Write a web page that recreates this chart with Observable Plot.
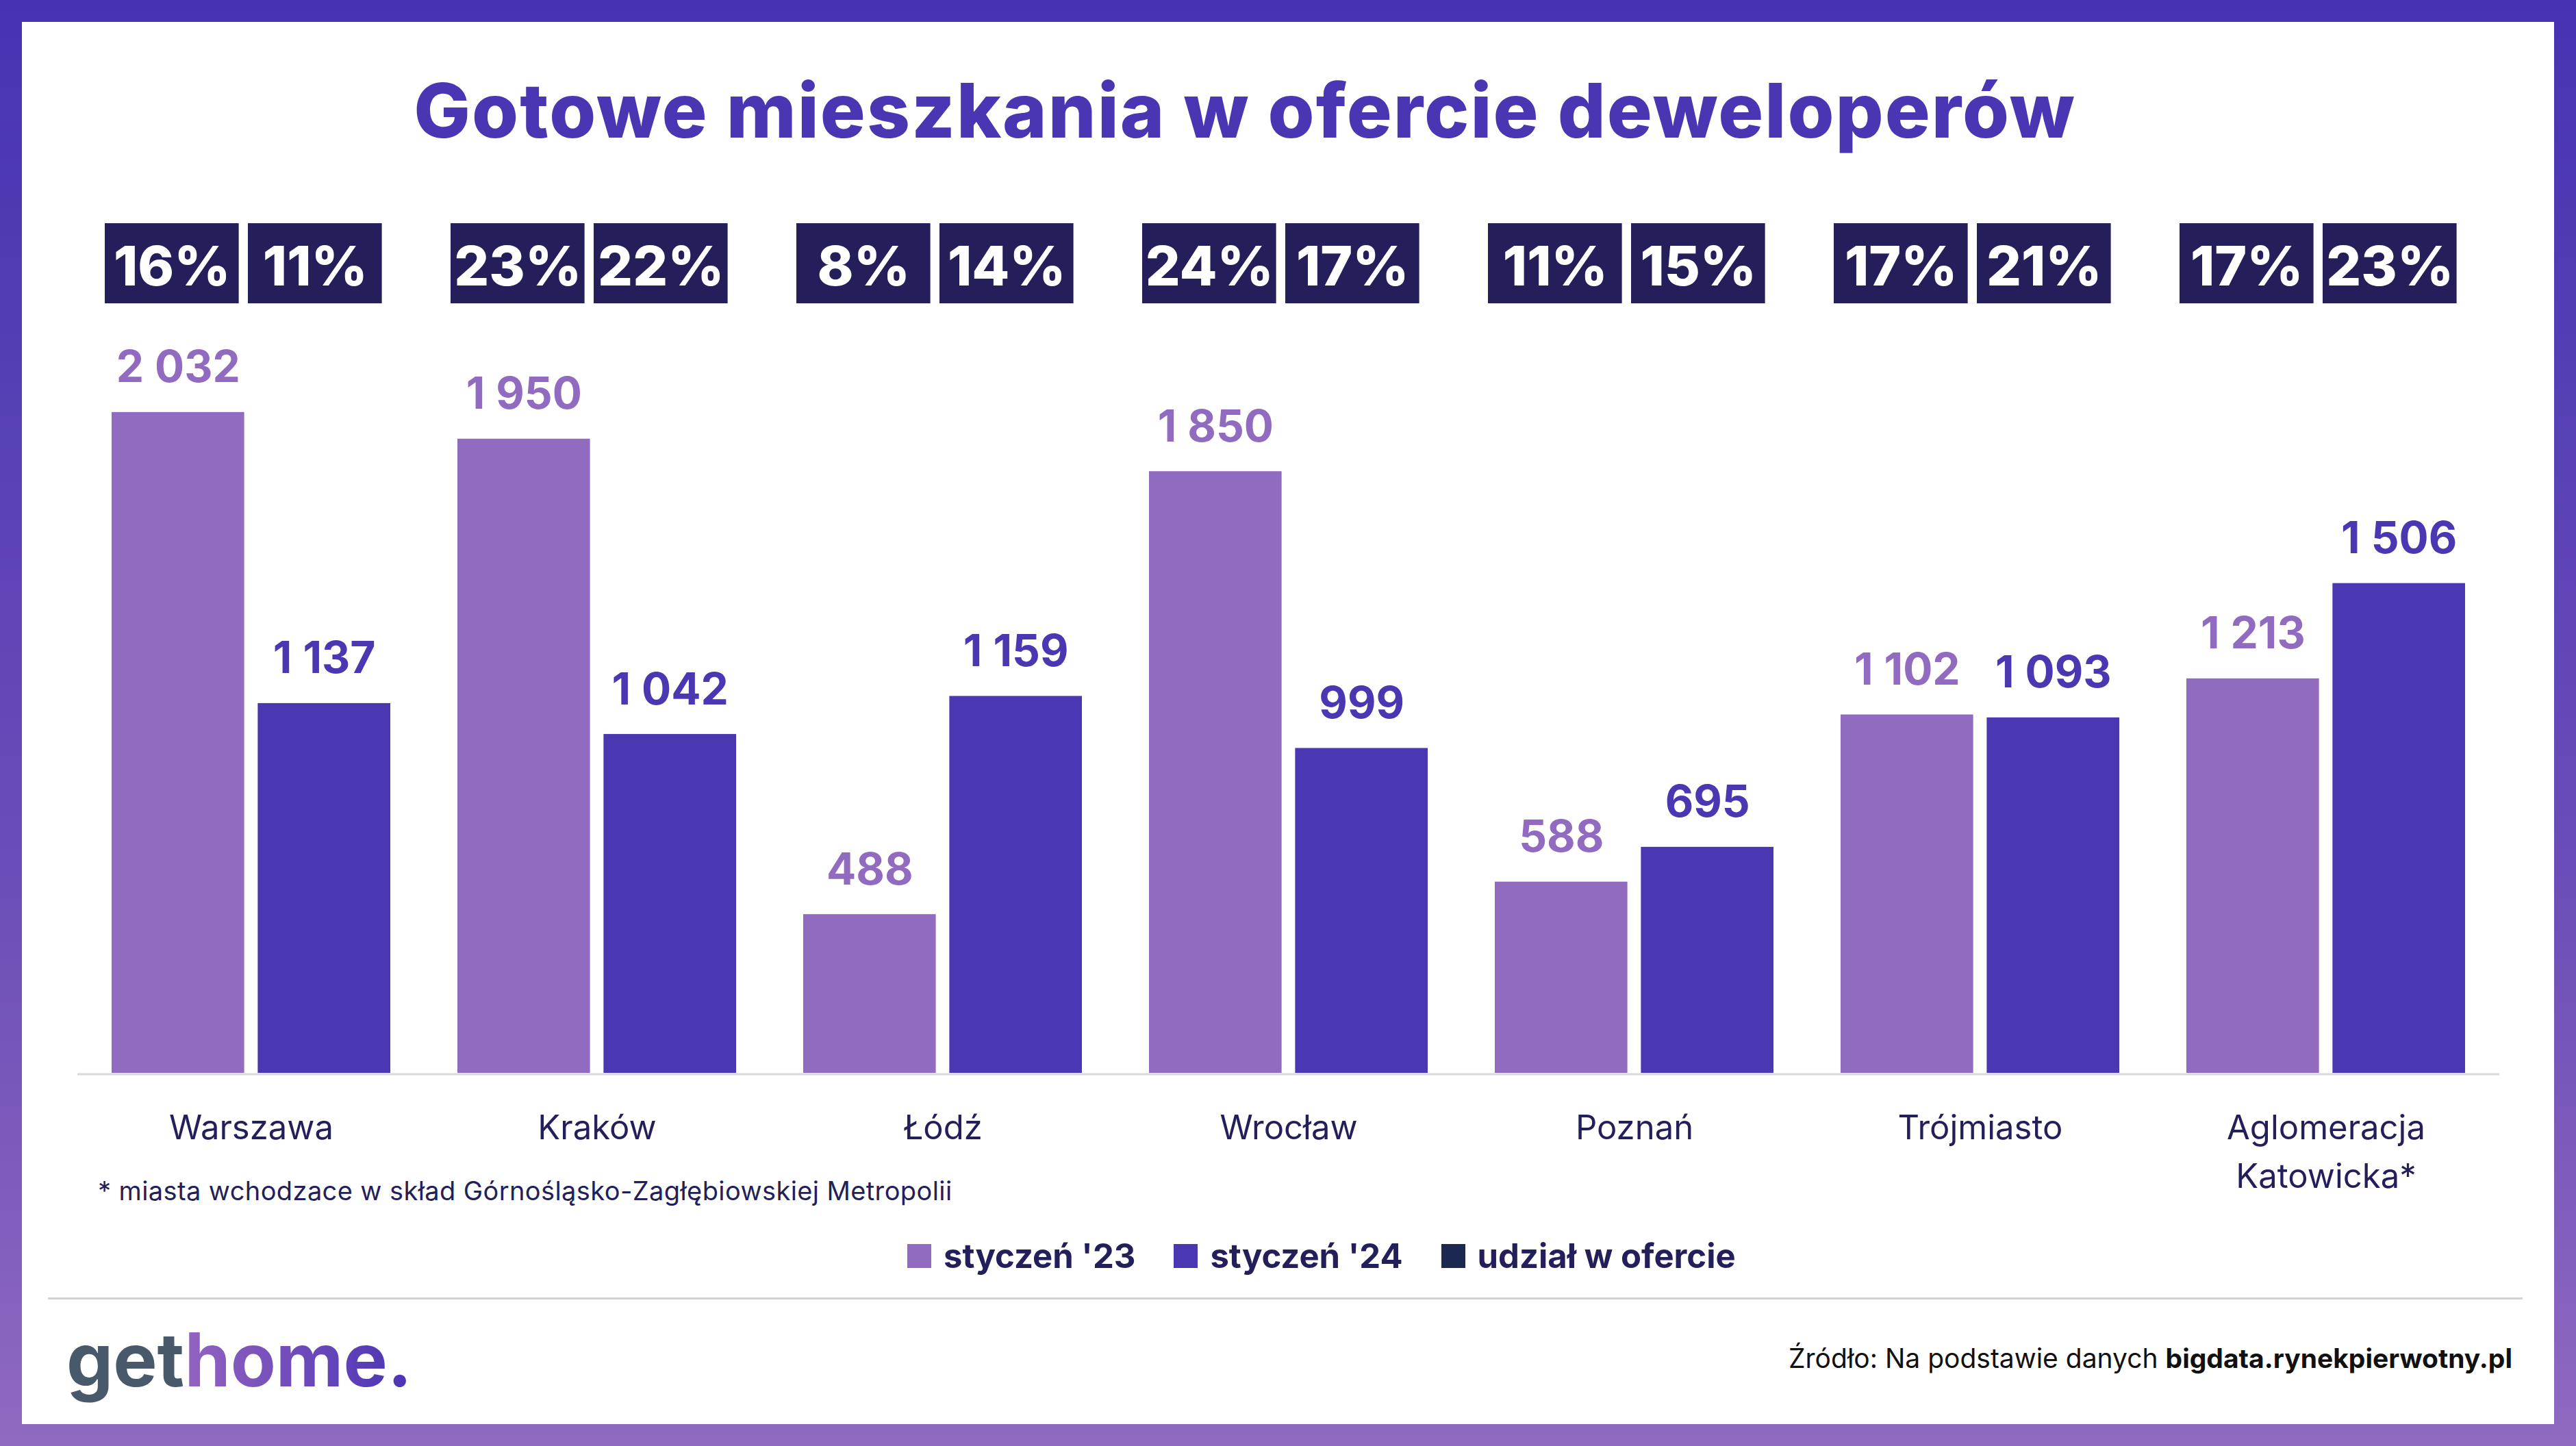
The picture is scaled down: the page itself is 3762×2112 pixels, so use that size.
<!DOCTYPE html>
<html><head><meta charset="utf-8">
<script src="https://cdn.jsdelivr.net/npm/d3@7"></script>
<script src="https://cdn.jsdelivr.net/npm/@observablehq/plot@0.6"></script>
<style>
html,body{margin:0;padding:0;}
body{width:3762px;height:2112px;overflow:hidden;font-family:Inter,"Noto Sans",sans-serif;}
#frame{position:relative;width:3762px;height:2112px;background:linear-gradient(180deg,#4733b2 0%,#6a4db8 60%,#9069c0 100%);}
#inner{position:absolute;left:32px;top:32px;width:3698px;height:2048px;background:#fff;}
.abs{position:absolute;white-space:nowrap;}
#title{left:0;width:3636px;top:106px;text-align:center;font-size:110px;line-height:1;font-weight:800;color:#4a36b2;letter-spacing:2px;}
#boxes{left:0;top:326px;}
#chart{left:0;top:460px;}
#note{left:143px;top:1720px;font-size:38px;line-height:1;color:#231f5a;letter-spacing:0.4px;}
#legend{left:1325px;top:1810px;display:flex;align-items:center;gap:56px;font-size:49px;line-height:1;font-weight:700;color:#231f5a;}
#legend .item{display:flex;align-items:center;gap:18px;}
#legend .sw{width:35px;height:35px;display:inline-block;}
#sep{left:70px;top:1895px;width:3614px;height:3px;background:#d3d3d3;}
#logo{left:97px;top:1932px;font-size:108px;line-height:1;font-weight:700;letter-spacing:0px;}
#logo .get{color:#47596a;}
#logo .home{background:linear-gradient(90deg,#9463c0,#4a33b5);-webkit-background-clip:text;background-clip:text;color:transparent;}
#source{right:93px;top:1964px;font-size:39px;line-height:1;color:#111;}
#source b{font-weight:700;}
</style></head>
<body><div id="frame"><div id="inner"></div>
<div id="title" class="abs">Gotowe mieszkania w ofercie deweloperów</div>
<div id="boxes" class="abs"></div>
<div id="chart" class="abs"></div>
<div id="note" class="abs">* miasta wchodzace w skład Górnośląsko-Zagłębiowskiej Metropolii</div>
<div id="legend" class="abs"></div>
<div id="sep" class="abs"></div>
<div id="logo" class="abs"><span class="get">get</span><span class="home">home.</span></div>
<div id="source" class="abs">Źródło: Na podstawie danych <b>bigdata.rynekpierwotny.pl</b></div>
</div>
<script>
const cities = ["Warszawa","Kraków","Łódź","Wrocław","Poznań","Trójmiasto","Aglomeracja\nKatowicka*"];
const jan23 = [2032,1950,488,1850,588,1102,1213];
const jan24 = [1137,1042,1159,999,695,1093,1506];
const share23 = [16,23,8,24,11,17,17];
const share24 = [11,22,14,17,15,21,23];
const seriesNames = ["styczeń '23","styczeń '24","udział w ofercie"];
const seriesColors = ["#916bc0","#4a37b2","#241f5a"];
const legendColors = ["#916bc0","#4a37b2","#1d2850"];

const rows = cities.map((c,i)=>({city:c, v23:jan23[i], v24:jan24[i], s23:share23[i], s24:share24[i]}));

const W = 3762, mL = 113, mR = 112, pIn = 0.194, pOut = 0.096;
const step = (W - mL - mR) / (cities.length - pIn + 2*pOut);
const bw = step * (1 - pIn);
const barW = 194;
const inset = bw - barW;
const fmt = v => d3.format(",")(v).replace(/,/g, "\u2005");
const xOpts = {domain: cities, paddingInner: pIn, paddingOuter: pOut};

const boxes = Plot.plot({
  width: W, height: 117, marginTop: 0, marginBottom: 0, marginLeft: mL, marginRight: mR,
  x: {...xOpts, axis: null},
  style: {fontFamily: "Inter, sans-serif", background: "transparent", overflow: "visible"},
  marks: [
    Plot.cell(rows, {x: "city", fill: seriesColors[2], insetLeft: -10, insetRight: bw - 186}),
    Plot.cell(rows, {x: "city", fill: seriesColors[2], insetLeft: 199, insetRight: bw - 395}),
    Plot.text(rows, {x: "city", text: d => d.s23 + "%", frameAnchor: "middle", dx: 88 - bw/2, dy: 6, fill: "white", fontSize: 80, fontWeight: 800}),
    Plot.text(rows, {x: "city", text: d => d.s24 + "%", frameAnchor: "middle", dx: 297 - bw/2, dy: 6, fill: "white", fontSize: 80, fontWeight: 800})
  ]
});
document.getElementById("boxes").append(boxes);

const chart = Plot.plot({
  width: W, height: 1300, marginTop: 62, marginBottom: 193, marginLeft: mL, marginRight: mR,
  x: {...xOpts},
  y: {domain: [0, 2200], axis: null},
  style: {fontFamily: "Inter, sans-serif", fontSize: "49px", background: "transparent", overflow: "visible"},
  marks: [
    Plot.ruleY([0], {stroke: "#d9d9d9", strokeWidth: 3, dy: 1.5}),
    Plot.barY(rows, {x: "city", y: "v23", fill: seriesColors[0], insetRight: inset}),
    Plot.barY(rows, {x: "city", y: "v24", fill: seriesColors[1], insetLeft: inset}),
    Plot.text(rows, {x: "city", y: "v23", text: d => fmt(d.v23), lineAnchor: "bottom", dx: -(bw - barW)/2, dy: -44, fill: seriesColors[0], fontSize: 64, fontWeight: 700}),
    Plot.text(rows, {x: "city", y: "v24", text: d => fmt(d.v24), lineAnchor: "bottom", dx: (bw - barW)/2, dy: -44, fill: seriesColors[1], fontSize: 64, fontWeight: 700}),
    Plot.axisX({tickSize: 0, tickPadding: 46, fontSize: 49, lineHeight: 1.45, fill: "#231f5a", label: null})
  ]
});
document.getElementById("chart").append(chart);

const legend = document.getElementById("legend");
seriesNames.forEach((n, i) => {
  const item = document.createElement("span");
  item.className = "item";
  const sw = document.createElement("span");
  sw.className = "sw";
  sw.style.background = legendColors[i];
  const t = document.createElement("span");
  t.textContent = n;
  item.append(sw, t);
  legend.append(item);
});
</script>
</body></html>
